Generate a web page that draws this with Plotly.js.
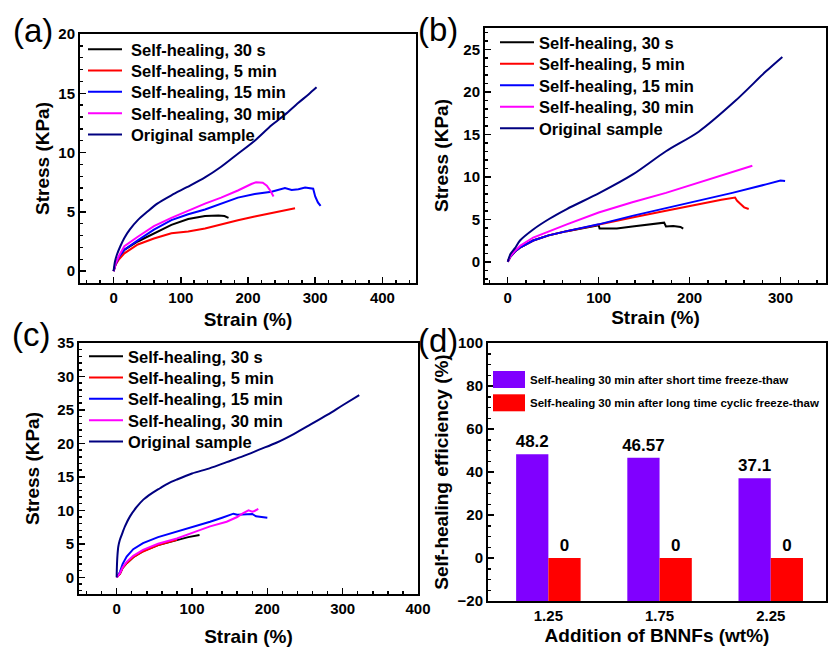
<!DOCTYPE html>
<html><head><meta charset="utf-8">
<script src="https://cdn.plot.ly/plotly-3.0.1.min.js"></script>
<style>body{margin:0;padding:0;background:#fff}#chart{width:828px;height:648px}</style>
</head><body><div id="chart"></div>
<script>
// ---------- Panel (a) ----------
const a_30s_x = [0, 3, 8, 16, 36, 60, 86, 111, 136, 156, 165, 171];
const a_30s_y = [0, 0.6, 1.2, 1.8, 2.5, 3.2, 3.9, 4.4, 4.65, 4.7, 4.65, 4.5];
const a_5min_x = [0, 3, 8, 16, 36, 60, 86, 111, 136, 160, 185, 210, 235, 255, 270];
const a_5min_y = [0, 0.55, 1.0, 1.5, 2.25, 2.75, 3.2, 3.35, 3.6, 3.95, 4.3, 4.6, 4.9, 5.1, 5.3];
const a_15min_x = [0, 3, 8, 16, 36, 60, 86, 111, 136, 160, 185, 210, 235, 255, 265, 275, 285, 297, 300, 304, 308];
const a_15min_y = [0, 0.6, 1.2, 1.8, 2.6, 3.5, 4.3, 4.8, 5.2, 5.7, 6.2, 6.5, 6.7, 7.0, 6.85, 6.9, 7.05, 6.95, 6.3, 5.8, 5.5];
const a_30min_x = [0, 3, 8, 16, 36, 60, 86, 111, 136, 160, 185, 205, 212, 222, 228, 233, 238];
const a_30min_y = [0, 0.65, 1.3, 2.1, 2.9, 3.8, 4.5, 5.1, 5.7, 6.2, 6.8, 7.35, 7.5, 7.45, 7.2, 6.8, 6.3];
const a_orig_x = [0, 2, 5, 10, 16, 24, 36, 50, 65, 86, 110, 136, 160, 185, 210, 235, 255, 275, 290, 302];
const a_orig_y = [0, 0.8, 1.4, 2.1, 2.8, 3.5, 4.3, 5.0, 5.7, 6.4, 7.1, 7.9, 8.8, 9.9, 11.0, 12.3, 13.2, 14.2, 14.9, 15.5];

// ---------- Panel (b) ----------
const b_30s_x = [0, 3, 8, 14, 28, 45, 65, 85, 100, 101, 120, 137, 155, 172, 174, 182, 190, 193];
const b_30s_y = [0, 0.6, 1.2, 1.7, 2.5, 3.1, 3.6, 4.0, 4.3, 3.9, 3.9, 4.15, 4.35, 4.6, 4.15, 4.2, 4.1, 3.9];
const b_5min_x = [0, 3, 8, 14, 28, 45, 65, 100, 137, 174, 210, 235, 250, 252, 256, 260, 265];
const b_5min_y = [0, 0.6, 1.2, 1.7, 2.5, 3.1, 3.6, 4.4, 5.2, 6.0, 6.8, 7.3, 7.55, 7.2, 6.8, 6.4, 6.2];
const b_15min_x = [0, 3, 8, 14, 28, 45, 65, 100, 137, 174, 210, 247, 284, 300, 305];
const b_15min_y = [0, 0.6, 1.2, 1.7, 2.5, 3.1, 3.6, 4.4, 5.4, 6.3, 7.25, 8.1, 9.1, 9.55, 9.5];
const b_30min_x = [0, 3, 8, 14, 28, 45, 65, 100, 137, 174, 210, 247, 269];
const b_30min_y = [0, 0.65, 1.3, 1.9, 2.85, 3.6, 4.4, 5.8, 7.0, 8.1, 9.3, 10.5, 11.3];
const b_orig_x = [0, 3, 8, 13.5, 28, 45, 65, 101, 138, 174, 210, 250, 284, 302];
const b_orig_y = [0, 0.9, 1.6, 2.5, 3.8, 5.0, 6.2, 8.1, 10.3, 13.0, 15.3, 18.9, 22.4, 24.1];

// ---------- Panel (c) ----------
const c_30s_x = [0, 2, 4.4, 8, 13.3, 22, 35, 55, 80, 95, 110];
const c_30s_y = [0, 0.3, 0.55, 1.4, 2.1, 3.0, 3.9, 4.8, 5.6, 6.0, 6.3];
const c_5min_x = [0, 2, 4.4, 8, 13.3, 22, 35, 55, 80];
const c_5min_y = [0, 0.3, 0.55, 1.4, 2.1, 3.0, 3.85, 4.8, 5.6];
const c_15min_x = [0, 2, 4.4, 8, 13.3, 22, 35, 55, 80, 102, 124, 140, 155, 160, 170, 180, 185, 192, 200];
const c_15min_y = [0, 0.4, 0.8, 2.0, 3.1, 4.2, 5.1, 6.0, 6.8, 7.6, 8.3, 8.9, 9.5, 9.35, 9.4, 9.45, 9.1, 9.05, 8.9];
const c_30min_x = [0, 2, 4.4, 8, 13.3, 22, 35, 55, 80, 102, 124, 146, 160, 168, 175, 180, 183, 188];
const c_30min_y = [0, 0.3, 0.6, 1.5, 2.3, 3.2, 4.1, 5.0, 5.8, 6.7, 7.6, 8.3, 9.0, 9.6, 10.0, 9.8, 9.9, 10.2];
const c_orig_x = [0, 0.3, 1, 2.2, 4, 6.6, 11, 17.7, 26.6, 35.4, 46, 57.5, 68, 80, 100, 124, 146, 168, 190, 212, 235, 257, 280, 300, 322];
const c_orig_y = [0, 1.5, 3.2, 4.6, 5.5, 6.3, 7.6, 9.1, 10.5, 11.6, 12.5, 13.3, 14.0, 14.6, 15.5, 16.3, 17.2, 18.1, 19.1, 20.1, 21.4, 22.8, 24.3, 25.7, 27.2];

// ---------- Panel (d) ----------
const d_categories = ['1.25', '1.75', '2.25'];
const d_short = [48.2, 46.57, 37.1];
const d_long = [0, 0, 0];

const seriesNames = ['Self-healing, 30 s', 'Self-healing, 5 min', 'Self-healing, 15 min', 'Self-healing, 30 min', 'Original sample'];
const d_names = ['Self-healing 30 min after short time freeze-thaw', 'Self-healing 30 min after long time cyclic freeze-thaw'];

const lineColors = ['#000000', '#FF0000', '#0000FF', '#FF00FF', '#000080'];
const FONT = 'Liberation Sans, Arial, sans-serif';

function panelTraces(sets, xa, ya, leg) {
  return sets.map((s, i) => ({
    type: 'scatter', mode: 'lines', x: s[0], y: s[1], name: seriesNames[i],
    xaxis: xa, yaxis: ya, legend: leg,
    line: i === 4 ? {color: lineColors[i], width: 2, shape: 'spline', smoothing: 0.8} : {color: lineColors[i], width: 2}
  }));
}

const traces = [].concat(
  panelTraces([[a_30s_x, a_30s_y], [a_5min_x, a_5min_y], [a_15min_x, a_15min_y], [a_30min_x, a_30min_y], [a_orig_x, a_orig_y]], 'x', 'y', 'legend'),
  panelTraces([[b_30s_x, b_30s_y], [b_5min_x, b_5min_y], [b_15min_x, b_15min_y], [b_30min_x, b_30min_y], [b_orig_x, b_orig_y]], 'x2', 'y2', 'legend2'),
  panelTraces([[c_30s_x, c_30s_y], [c_5min_x, c_5min_y], [c_15min_x, c_15min_y], [c_30min_x, c_30min_y], [c_orig_x, c_orig_y]], 'x3', 'y3', 'legend3')
);

const dFloor = -20;
[[d_short, '#8000FF', d_names[0]], [d_long, '#FF0000', d_names[1]]].forEach((s, i) => {
  traces.push({
    type: 'bar', x: d_categories, y: s[0].map(v => v - dFloor), base: dFloor,
    text: s[0].map(v => String(v)), textposition: 'outside', cliponaxis: false, constraintext: 'none',
    textfont: {family: FONT, size: 17, weight: 'bold', color: '#000'},
    marker: {color: s[1], line: {width: 0}}, name: s[2],
    xaxis: 'x4', yaxis: 'y4', legend: 'legend4', hoverinfo: 'skip'
  });
});

function ax(extra) {
  return Object.assign({
    showline: true, linewidth: 2, linecolor: '#000', mirror: true,
    ticks: 'inside', ticklen: 6, tickwidth: 1.5, tickcolor: '#000',
    showgrid: false, zeroline: false,
    tickfont: {family: FONT, size: 15, weight: 'bold', color: '#000'},
    minor: {ticks: 'inside', ticklen: 3, tickwidth: 1.5, tickcolor: '#000'}
  }, extra);
}
function ttl(text, standoff) {
  return {text: text, standoff: standoff, font: {family: FONT, size: 19, weight: 'bold', color: '#000'}};
}
const W = 828, H = 648;
const px = v => v / W, py = v => 1 - v / H;

function leg(x, y, size, extra) {
  return Object.assign({x: px(x), y: py(y), xanchor: 'left', yanchor: 'top', bgcolor: 'rgba(0,0,0,0)',
    borderwidth: 0, tracegroupgap: 0, itemwidth: 34,
    font: {family: FONT, size: size, weight: 'bold', color: '#000'}}, extra || {});
}

const layout = {
  width: W, height: H, margin: {l: 0, r: 0, t: 0, b: 0, autoexpand: false},
  paper_bgcolor: '#fff', plot_bgcolor: '#fff', showlegend: true,
  font: {family: FONT, color: '#000'},
  bargap: 0.42, bargroupgap: 0, barmode: 'group',
  xaxis: ax({domain: [px(80), px(416)], range: [-50, 450], dtick: 100, anchor: 'y', title: ttl('Strain (%)', 8)}),
  yaxis: ax({domain: [py(283), py(34)], range: [-1, 20], dtick: 5, anchor: 'x', title: ttl('Stress (KPa)', 4)}),
  xaxis2: ax({domain: [px(485), px(826)], range: [-25, 350], dtick: 100, anchor: 'y2', title: ttl('Strain (%)', 6)}),
  yaxis2: ax({domain: [py(283), py(28)], range: [-2.5, 27.5], dtick: 5, anchor: 'x2', title: ttl('Stress (KPa)', 10)}),
  xaxis3: ax({domain: [px(79), px(418)], range: [-50, 400], dtick: 100, anchor: 'y3', title: ttl('Strain (%)', 14)}),
  yaxis3: ax({domain: [py(594), py(343)], range: [-2.5, 35], dtick: 5, anchor: 'x3', title: ttl('Stress (KPa)', 13)}),
  xaxis4: ax({domain: [px(488), px(826)], type: 'category', range: [-0.543, 2.497], ticks: '', minor: {ticks: ''}, anchor: 'y4', title: ttl('Addition of BNNFs (wt%)', 6)}),
  yaxis4: ax({domain: [py(601), py(343)], range: [-20, 100], dtick: 20, anchor: 'x4', title: ttl('Self-healing efficiency (%)', 4)}),
  legend: leg(83, 32, 16.5),
  legend2: leg(495, 25, 16.5),
  legend3: leg(84, 339, 16.5),
  legend4: leg(486, 365, 11.5),
  annotations: [
    ['(a)', 33, 31], ['(b)', 438, 30], ['(c)', 31, 334], ['(d)', 438, 340]
  ].map(a => ({text: a[0], x: px(a[1]), y: py(a[2]), xref: 'paper', yref: 'paper', showarrow: false,
    xanchor: 'center', yanchor: 'middle', font: {family: FONT, size: 33, color: '#000'}}))
};

// legend fine-tuning: row spacing, text gap, bar swatch size
const legendTune = {legend: {gap: 21.3, dx: 4}, legend2: {gap: 21.5, dx: 4}, legend3: {gap: 21.3, dx: 4}, legend4: {gap: 23.3, dx: 0, sw: 32, sh: 17}};

Plotly.newPlot('chart', traces, layout, {staticPlot: true}).then(gd => {
  Object.keys(legendTune).forEach(id => {
    const cfg = legendTune[id];
    const g = gd.querySelector('g.' + id);
    if (!g) return;
    const items = g.querySelectorAll('g.traces');
    let y0 = null;
    items.forEach((it, i) => {
      const tr = it.getAttribute('transform') || '';
      const m = tr.match(/translate\(\s*([-\d.e]+)[ ,]+([-\d.e]+)/);
      const tx = m ? parseFloat(m[1]) : 0;
      const ty = m ? parseFloat(m[2]) : 0;
      if (y0 === null) y0 = ty;
      it.setAttribute('transform', 'translate(' + tx + ',' + (y0 + i * cfg.gap) + ')');
      if (cfg.dx) {
        it.querySelectorAll('text.legendtext').forEach(t => {
          t.setAttribute('x', parseFloat(t.getAttribute('x') || 0) + cfg.dx);
          t.querySelectorAll('tspan[x]').forEach(s => s.setAttribute('x', parseFloat(s.getAttribute('x')) + cfg.dx));
        });
      }
      if (cfg.sw) {
        it.querySelectorAll('g.legendpoints path').forEach(p => {
          const b = p.getBBox();
          const cx = b.x + b.width / 2, cy = b.y + b.height / 2;
          p.setAttribute('d', 'M' + (cx - cfg.sw / 2 + 1) + ',' + (cy - cfg.sh / 2) + 'h' + cfg.sw + 'v' + cfg.sh + 'h' + (-cfg.sw) + 'Z');
        });
      }
    });
  });
});
</script></body></html>
